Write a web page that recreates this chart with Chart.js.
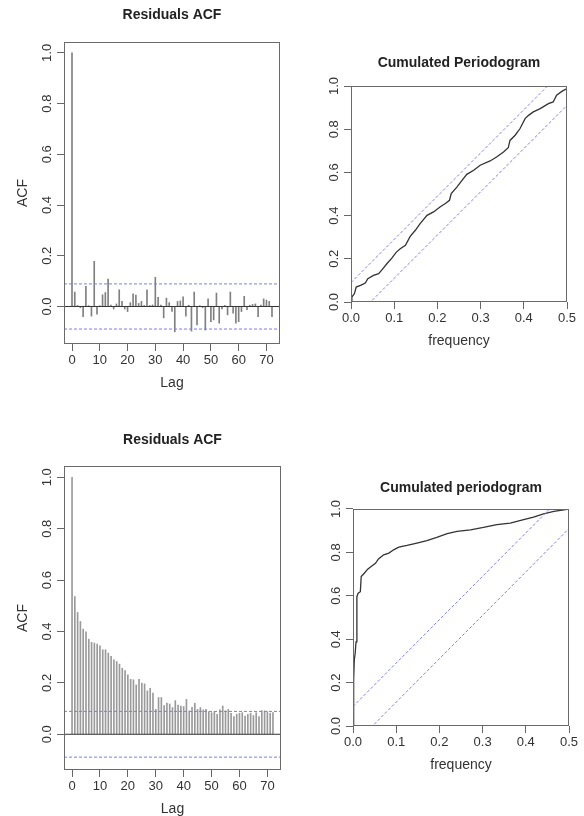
<!DOCTYPE html>
<html>
<head>
<meta charset="utf-8">
<script src="https://cdn.jsdelivr.net/npm/chart.js@4.4.1/dist/chart.umd.min.js"></script>
<style>
  html, body { margin: 0; padding: 0; background: #fff; }
  #page { position: relative; width: 584px; height: 816px; overflow: hidden; background: #fff; }
  #page canvas { position: absolute; }
</style>
</head>
<body>
<div id="page">
  <canvas id="acf1" width="292" height="408" style="left:0;top:0"></canvas>
  <canvas id="cp1" width="292" height="408" style="left:292px;top:0"></canvas>
  <canvas id="acf2" width="292" height="408" style="left:0;top:408px"></canvas>
  <canvas id="cp2" width="292" height="408" style="left:292px;top:408px"></canvas>
</div>
<script>
// lags 0..72
const lags = [
  0, 1, 2, 3, 4, 5, 6, 7, 8, 9,
  10, 11, 12, 13, 14, 15, 16, 17, 18, 19,
  20, 21, 22, 23, 24, 25, 26, 27, 28, 29,
  30, 31, 32, 33, 34, 35, 36, 37, 38, 39,
  40, 41, 42, 43, 44, 45, 46, 47, 48, 49,
  50, 51, 52, 53, 54, 55, 56, 57, 58, 59,
  60, 61, 62, 63, 64, 65, 66, 67, 68, 69,
  70, 71, 72
];

// residual autocorrelations, first model
const acfTop = [
  1.0, 0.057, 0.004, -0.005, -0.04, 0.079, 0.003, -0.038, 0.178, -0.03,
  0.003, 0.046, 0.055, 0.108, 0.005, -0.01, 0.01, 0.066, 0.02, -0.01,
  -0.02, 0.015, 0.05, 0.045, 0.012, 0.02, 0.004, 0.066, 0.004, 0.006,
  0.115, 0.036, 0.005, -0.045, 0.033, 0.015, -0.02, -0.1, 0.02, 0.022,
  0.038, -0.038, 0.005, -0.097, 0.057, -0.073, 0.003, -0.005, -0.093, 0.03,
  -0.06, -0.053, 0.053, -0.066, -0.01, 0.004, -0.033, 0.057, -0.026, -0.066,
  -0.06, -0.02, 0.04, -0.013, 0.005, 0.008, 0.01, -0.04, 0.005, 0.03,
  0.025, 0.02, -0.04
];

// residual autocorrelations, second model
const acfBottom = [
  1.0, 0.536, 0.474, 0.439, 0.409, 0.399, 0.37, 0.358, 0.355, 0.351,
  0.344, 0.329, 0.329, 0.316, 0.303, 0.29, 0.283, 0.273, 0.257, 0.248,
  0.231, 0.214, 0.212, 0.192, 0.214, 0.199, 0.196, 0.169, 0.179, 0.16,
  0.097, 0.143, 0.143, 0.112, 0.121, 0.118, 0.104, 0.131, 0.114, 0.11,
  0.108, 0.136, 0.091, 0.105, 0.121, 0.097, 0.104, 0.095, 0.097, 0.088,
  0.084, 0.088, 0.078, 0.095, 0.11, 0.091, 0.097, 0.082, 0.069, 0.078,
  0.082, 0.084, 0.071, 0.078, 0.082, 0.073, 0.084, 0.069, 0.092, 0.091,
  0.088, 0.082, 0.084
];

// cumulated periodogram, first model
const cpFreqTop = [
  0, 0.002, 0.008, 0.012, 0.022, 0.033, 0.039, 0.052, 0.064, 0.072,
  0.083, 0.095, 0.105, 0.114, 0.126, 0.137, 0.149, 0.16, 0.176, 0.191,
  0.206, 0.22, 0.228, 0.232, 0.245, 0.257, 0.268, 0.284, 0.299, 0.322,
  0.337, 0.353, 0.364, 0.368, 0.38, 0.391, 0.403, 0.411, 0.422, 0.438,
  0.457, 0.468, 0.476, 0.488, 0.5
];
const cpValTop = [
  0, 0.023, 0.039, 0.069, 0.077, 0.088, 0.108, 0.123, 0.131, 0.15,
  0.177, 0.204, 0.231, 0.247, 0.262, 0.304, 0.332, 0.363, 0.401, 0.417,
  0.44, 0.458, 0.471, 0.502, 0.532, 0.563, 0.591, 0.61, 0.633, 0.653,
  0.671, 0.694, 0.714, 0.748, 0.772, 0.802, 0.849, 0.864, 0.88, 0.895,
  0.918, 0.926, 0.957, 0.975, 0.988
];

// cumulated periodogram, second model
const cpFreqBottom = [
  0, 0.0015, 0.003, 0.005, 0.007, 0.009, 0.012, 0.017, 0.019, 0.026,
  0.034, 0.042, 0.052, 0.059, 0.071, 0.083, 0.094, 0.106, 0.125, 0.148,
  0.171, 0.194, 0.218, 0.241, 0.272, 0.302, 0.333, 0.364, 0.395, 0.418,
  0.441, 0.465, 0.5
];
const cpValBottom = [
  0, 0.211, 0.304, 0.334, 0.388, 0.596, 0.612, 0.619, 0.689, 0.704,
  0.723, 0.735, 0.75, 0.77, 0.789, 0.797, 0.812, 0.824, 0.832, 0.843,
  0.854, 0.869, 0.886, 0.897, 0.904, 0.915, 0.928, 0.935, 0.951, 0.963,
  0.978, 0.989, 1.0
];

// tick positions
const acfTicksX = [0, 10, 20, 30, 40, 50, 60, 70];
const acfTicksY = [0, 0.2, 0.4, 0.6, 0.8, 1.0];
const cpTicksX = [0, 0.1, 0.2, 0.3, 0.4, 0.5];
const cpTicksY = [0, 0.2, 0.4, 0.6, 0.8, 1.0];

// confidence bounds (acf +/- limit, periodogram band half-width)
const acfLimit = 0.089;
const cpCrit = 0.09;

const FONT = '"Liberation Sans", Arial, Helvetica, sans-serif';
const DASH = 'rgb(125, 125, 245)';
const CANVAS_H = 408, CANVAS_W = 292;

Chart.defaults.font.family = FONT;
Chart.defaults.color = '#333';

// plot frame plus vertical y tick labels, R style
const frame = {
    id: 'frame',
    afterDraw(chart) {
        const {ctx, chartArea: a} = chart;
        const y = chart.scales.y;
        ctx.save();
        ctx.strokeStyle = '#6a6a6a';
        ctx.lineWidth = 1;
        ctx.strokeRect(a.left + 0.5, a.top + 0.5, a.right - a.left - 1, a.bottom - a.top - 1);
        ctx.font = '13px ' + FONT;
        ctx.fillStyle = '#333';
        ctx.textAlign = 'center';
        ctx.textBaseline = 'middle';
        y.ticks.forEach(t => {
            ctx.save();
            ctx.translate(a.left - 17, y.getPixelForValue(t.value));
            ctx.rotate(-Math.PI / 2);
            ctx.fillText(t.value.toFixed(1), 0, 0);
            ctx.restore();
        });
        ctx.restore();
    }
};

const tickGrid = { drawOnChartArea: false, drawTicks: true, tickLength: 7, color: '#666', offset: false };

function titleOpts(text, area) {
    return {
        display: true, text: text, fullSize: false, color: '#222',
        font: { size: 14, weight: 'bold', lineHeight: 1.2 },
        padding: { top: area.title - 8.4, bottom: area.top - area.title - 8.4 }
    };
}

function xAxis(min, max, ticks, fmt, label, area) {
    return {
        type: 'linear', min: min, max: max, offset: false,
        grid: tickGrid, border: { display: false },
        ticks: { autoSkip: false, maxRotation: 0, padding: 2.5, font: { size: 13, lineHeight: 1 }, callback: fmt },
        afterBuildTicks: s => { s.ticks = ticks.map(v => ({ value: v })); },
        afterFit: s => { s.height = CANVAS_H - area.bottom; },
        title: { display: true, text: label, font: { size: 14, lineHeight: 1 },
                 padding: { top: 0, bottom: CANVAS_H - area.bottom - 39 - 7 } }
    };
}

function yAxis(min, max, ticks, label, area) {
    return {
        type: 'linear', min: min, max: max,
        grid: tickGrid, border: { display: false },
        ticks: { display: false },
        afterBuildTicks: s => { s.ticks = ticks.map(v => ({ value: v })); },
        afterFit: s => { s.width = area.left; },
        title: { display: !!label, text: label || '', font: { size: 14, lineHeight: 1 }, padding: { top: 16, bottom: 0 } }
    };
}

function acfChart(id, values, yMin, yMax, area, barColor) {
    const xMin = -2.88, xMax = 74.88;
    const hline = (v, color, dash) => ({
        type: 'line', data: [{ x: xMin, y: v }, { x: xMax, y: v }],
        borderColor: color, borderWidth: 1, borderDash: dash, pointRadius: 0, order: 1
    });
    return new Chart(document.getElementById(id), {
        type: 'bar',
        data: {
            datasets: [
                hline(0, '#333', []),
                hline(acfLimit, DASH, [3, 2]),
                hline(-acfLimit, DASH, [3, 2]),
                {
                    type: 'bar',
                    data: lags.map((l, i) => ({ x: l, y: values[i] })),
                    backgroundColor: barColor,
                    barThickness: 1,
                    order: 2
                }
            ]
        },
        options: {
            responsive: false,
            animation: false,
            layout: { padding: { left: 0, top: 0, bottom: 0, right: CANVAS_W - area.right } },
            plugins: {
                legend: { display: false },
                tooltip: { enabled: false },
                title: titleOpts('Residuals ACF', area)
            },
            scales: {
                x: xAxis(xMin, xMax, acfTicksX, v => String(v), 'Lag', area),
                y: yAxis(yMin, yMax, acfTicksY, 'ACF', area)
            }
        },
        plugins: [frame]
    });
}

function cpChart(id, freq, vals, title, area) {
    // band lines y = 2f +/- crit across the whole frequency range
    const band = (c) => ({
        data: [{ x: 0, y: c }, { x: 0.5, y: 1 + c }],
        showLine: true, borderColor: DASH, backgroundColor: DASH,
        borderWidth: 1, borderDash: [3, 2], pointRadius: 0
    });
    return new Chart(document.getElementById(id), {
        type: 'scatter',
        data: {
            datasets: [
                band(cpCrit),
                band(-cpCrit),
                {
                    data: freq.map((f, i) => ({ x: f, y: vals[i] })),
                    showLine: true, borderColor: '#333', backgroundColor: '#333',
                    borderWidth: 1.3, pointRadius: 0
                }
            ]
        },
        options: {
            responsive: false,
            animation: false,
            layout: { padding: { left: 0, top: 0, bottom: 0, right: CANVAS_W - area.right } },
            plugins: {
                legend: { display: false },
                tooltip: { enabled: false },
                title: titleOpts(title, area)
            },
            scales: {
                x: xAxis(0, 0.5, cpTicksX, v => v.toFixed(1), 'frequency', area),
                y: yAxis(0, 1, cpTicksY, null, area)
            }
        },
        plugins: [frame]
    });
}

acfChart('acf1', acfTop, -0.148, 1.043, { left: 64, right: 280, top: 42, bottom: 344, title: 15 }, '#808080');
cpChart('cp1', cpFreqTop, cpValTop, 'Cumulated Periodogram', { left: 59, right: 275, top: 86, bottom: 302, title: 63 });
acfChart('acf2', acfBottom, -0.139, 1.044, { left: 64, right: 281, top: 58, bottom: 362, title: 32 }, '#9a9a9a');
cpChart('cp2', cpFreqBottom, cpValBottom, 'Cumulated periodogram', { left: 61, right: 277, top: 101, bottom: 318, title: 80 });
</script>
</body>
</html>
